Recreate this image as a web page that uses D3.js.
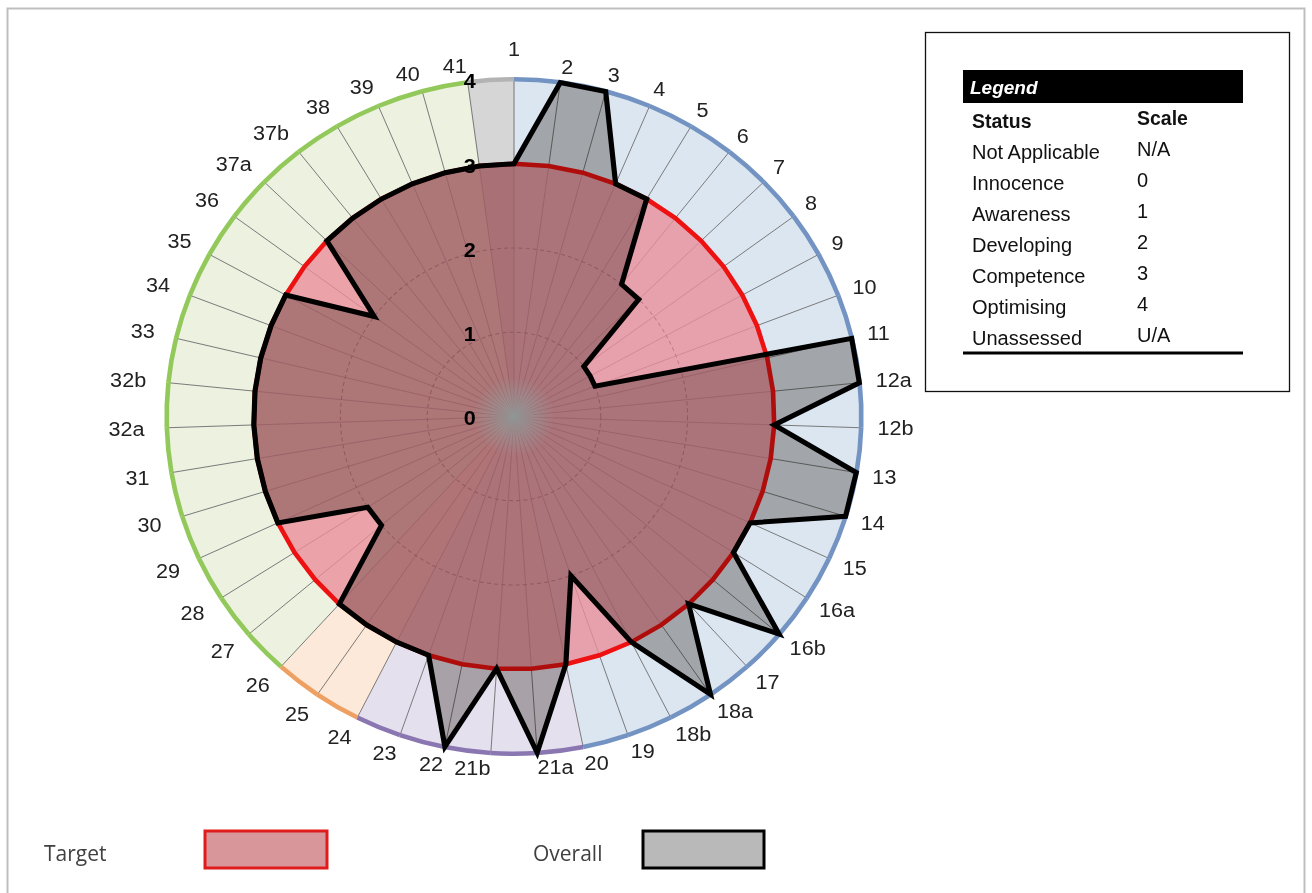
<!DOCTYPE html>
<html>
<head>
<meta charset="utf-8">
<script src="https://cdn.jsdelivr.net/npm/d3@7"></script>
<style>
  html, body { margin: 0; padding: 0; background: #fff; }
  svg { display: block; }
</style>
</head>
<body>
<div id="chart"></div>
<script>
(function() {
  // categories round the radar, clockwise from the top
  const categories = ["1", "2", "3", "4", "5", "6", "7", "8", "9", "10", "11", "12a", "12b",
    "13", "14", "15", "16a", "16b", "17", "18a", "18b", "19", "20", "21a", "21b", "22", "23",
    "24", "25", "26", "27", "28", "29", "30", "31", "32a", "32b", "33", "34", "35", "36",
    "37a", "37b", "38", "39", "40", "41"];

  const target = [3, 3, 3, 3, 3, 3, 3, 3, 3, 3, 3, 3, 3,
    3, 3, 3, 3, 3, 3, 3, 3, 3, 3, 3, 3, 3, 3,
    3, 3, 3, 3, 3, 3, 3, 3, 3, 3, 3, 3, 3, 3,
    3, 3, 3, 3, 3, 3];

  const overall = [3, 4, 4, 3, 3, 2, 2, 1, 1, 1, 4, 4, 3,
    4, 4, 3, 3, 4, 3, 4, 3, 2, 3, 4, 3, 4, 3,
    3, 3, 3, 2, 2, 3, 3, 3, 3, 3, 3, 3, 3, 2,
    3, 3, 3, 3, 3, 3];

  // section each category belongs to (background band colour)
  const sections = ["blue", "blue", "blue", "blue", "blue", "blue", "blue", "blue", "blue", "blue", "blue", "blue", "blue",
    "blue", "blue", "blue", "blue", "blue", "blue", "blue", "blue", "blue", "purple", "purple", "purple", "purple", "purple",
    "orange", "orange", "green", "green", "green", "green", "green", "green", "green", "green", "green", "green", "green", "green",
    "green", "green", "green", "green", "green", "grey"];

  const scaleTicks = [0, 1, 2, 3, 4];
  const gridLevels = [1, 2, 3];

  const legendStatus = ["Not Applicable", "Innocence", "Awareness", "Developing", "Competence", "Optimising", "Unassessed"];
  const legendScale = ["N/A", "0", "1", "2", "3", "4", "U/A"];

  const bandFill = { blue: "#dce6f1", purple: "#e5e0ee", orange: "#fde9d9", green: "#ecf1e0", grey: "#d6d6d6" };
  const bandRing = { blue: "#7393c2", purple: "#8a76b0", orange: "#eea062", green: "#92c95a", grey: "#b3b3b3" };

  const W = 1312, H = 893;
  const cx = 514, cy = 416.5;

  const svg = d3.select("#chart").append("svg")
    .attr("width", W)
    .attr("height", H);

  // page frame
  svg.append("rect")
    .attr("x", 7.5).attr("y", 8.5)
    .attr("width", 1297).attr("height", 900)
    .attr("fill", "none")
    .attr("stroke", "#bfbfbf")
    .attr("stroke-width", 2);

  const defs = svg.append("defs");
  const grad = defs.append("radialGradient").attr("id", "centreSpot");
  grad.append("stop").attr("offset", "0%").attr("stop-color", "#8fa8a6").attr("stop-opacity", 0.75);
  grad.append("stop").attr("offset", "100%").attr("stop-color", "#8fa8a6").attr("stop-opacity", 0);

  const g = svg.append("g")
    .attr("transform", `translate(${cx},${cy}) scale(1.03,1)`);

  const n = categories.length;
  const r = d3.scaleLinear().domain([0, 4]).range([0, 337]);
  const angle = d3.scaleLinear().domain([0, n]).range([0, 2 * Math.PI]);

  // background bands
  const wedge = d3.arc()
    .innerRadius(0)
    .outerRadius(r(4))
    .startAngle((d, i) => angle(i))
    .endAngle((d, i) => angle(i + 1));

  g.append("g").selectAll("path")
    .data(sections)
    .join("path")
    .attr("d", wedge)
    .attr("fill", d => bandFill[d])
    .attr("stroke", d => bandFill[d])
    .attr("stroke-width", 0.5);

  // spokes
  g.append("g").selectAll("line")
    .data(categories)
    .join("line")
    .attr("x1", 0).attr("y1", 0)
    .attr("x2", (d, i) => r(4) * Math.sin(angle(i)))
    .attr("y2", (d, i) => -r(4) * Math.cos(angle(i)))
    .attr("stroke", "#6f6f6f")
    .attr("stroke-width", 0.9);

  // dashed grid circles
  g.append("g").selectAll("circle")
    .data(gridLevels)
    .join("circle")
    .attr("r", d => r(d))
    .attr("fill", "none")
    .attr("stroke", "#3a3a3a")
    .attr("stroke-width", 1)
    .attr("stroke-dasharray", "4,3");

  // outer coloured ring
  const ring = d3.arc()
    .innerRadius(r(4) - 2)
    .outerRadius(r(4) + 2.5)
    .startAngle((d, i) => angle(i))
    .endAngle((d, i) => angle(i + 1));

  g.append("g").selectAll("path")
    .data(sections)
    .join("path")
    .attr("d", ring)
    .attr("fill", d => bandRing[d]);

  const radial = d3.lineRadial()
    .angle((d, i) => angle(i))
    .radius(d => r(d))
    .curve(d3.curveLinearClosed);

  // target
  g.append("path")
    .datum(target)
    .attr("d", radial)
    .attr("fill", "#ea8d9a")
    .attr("fill-opacity", 0.78)
    .attr("stroke", "#ee1111")
    .attr("stroke-width", 4.5);

  // overall
  g.append("path")
    .datum(overall)
    .attr("d", radial)
    .attr("fill", "#bcb8b4")
    .style("mix-blend-mode", "multiply");

  g.append("path")
    .datum(overall)
    .attr("d", radial)
    .attr("fill", "none")
    .attr("stroke", "#000")
    .attr("stroke-width", 5)
    .attr("stroke-linejoin", "miter")
    .attr("stroke-miterlimit", 6);

  g.append("circle")
    .attr("r", 40)
    .attr("fill", "url(#centreSpot)");

  // scale numbers on the vertical axis
  g.append("g").selectAll("text")
    .data(scaleTicks)
    .join("text")
    .attr("x", -43)
    .attr("y", d => -r(d) + 2)
    .attr("text-anchor", "middle")
    .attr("dominant-baseline", "central")
    .attr("font-family", "'Liberation Sans', Arial, sans-serif")
    .attr("font-weight", "bold")
    .attr("font-size", 21)
    .attr("fill", "#000")
    .text(d => d);

  // category labels
  g.append("g").selectAll("text")
    .data(categories)
    .join("text")
    .each(function(d, i) {
      const a = angle(i);
      const s = Math.sin(a), c = Math.cos(a);
      let R = r(4) + 5 + 11 * Math.abs(s) + (s < 0 ? 6 * Math.abs(s) : 0);
      if (Math.abs(s) < 0.02) R += 16;
      d3.select(this)
        .attr("x", R * s)
        .attr("y", -R * c - c * 9)
        .attr("text-anchor", s > 0.02 ? "start" : (s < -0.02 ? "end" : "middle"));
    })
    .attr("dominant-baseline", "central")
    .attr("font-family", "'Liberation Sans', Arial, sans-serif")
    .attr("font-size", 21)
    .attr("fill", "#222")
    .text(d => d);

  // status legend box
  const lg = svg.append("g");
  lg.append("rect")
    .attr("x", 925.5).attr("y", 32.5)
    .attr("width", 364).attr("height", 359)
    .attr("fill", "#fff")
    .attr("stroke", "#111")
    .attr("stroke-width", 1.3);
  lg.append("rect")
    .attr("x", 963).attr("y", 70)
    .attr("width", 280).attr("height", 33)
    .attr("fill", "#000");
  lg.append("text")
    .attr("x", 970).attr("y", 94)
    .attr("font-family", "'Liberation Sans', Arial, sans-serif")
    .attr("font-size", 19)
    .attr("font-weight", "bold")
    .attr("font-style", "italic")
    .attr("fill", "#fff")
    .text("Legend");
  lg.append("text")
    .attr("x", 972).attr("y", 128)
    .attr("font-family", "'Liberation Sans', Arial, sans-serif")
    .attr("font-size", 19.5).attr("font-weight", "bold").attr("fill", "#111")
    .text("Status");
  lg.append("text")
    .attr("x", 1137).attr("y", 125)
    .attr("font-family", "'Liberation Sans', Arial, sans-serif")
    .attr("font-size", 19.5).attr("font-weight", "bold").attr("fill", "#111")
    .text("Scale");

  const rowY = d3.scaleLinear().domain([0, legendStatus.length - 1]).range([159, 345]);
  lg.append("g").selectAll("text")
    .data(legendStatus)
    .join("text")
    .attr("x", 972)
    .attr("y", (d, i) => rowY(i))
    .attr("font-family", "'Liberation Sans', Arial, sans-serif")
    .attr("font-size", 20).attr("fill", "#111")
    .text(d => d);
  lg.append("g").selectAll("text")
    .data(legendScale)
    .join("text")
    .attr("x", 1137)
    .attr("y", (d, i) => rowY(i) - 3)
    .attr("font-family", "'Liberation Sans', Arial, sans-serif")
    .attr("font-size", 20).attr("fill", "#111")
    .text(d => d);
  lg.append("line")
    .attr("x1", 963).attr("x2", 1243)
    .attr("y1", 353).attr("y2", 353)
    .attr("stroke", "#000")
    .attr("stroke-width", 3);

  // series legend at the bottom
  const bl = svg.append("g")
    .attr("font-family", "'Open Sans', 'Noto Sans', sans-serif")
    .attr("font-size", 21)
    .attr("fill", "#404040");
  bl.append("text").attr("x", 44).attr("y", 853).attr("dominant-baseline", "central").text("Target");
  bl.append("rect")
    .attr("x", 205).attr("y", 831).attr("width", 122).attr("height", 37)
    .attr("fill", "#d9969a").attr("stroke", "#e01b1b").attr("stroke-width", 3);
  bl.append("text").attr("x", 533).attr("y", 853).attr("dominant-baseline", "central").text("Overall");
  bl.append("rect")
    .attr("x", 643).attr("y", 831).attr("width", 121).attr("height", 37)
    .attr("fill", "#b9b9b9").attr("stroke", "#000").attr("stroke-width", 3);
})();
</script>
</body>
</html>
